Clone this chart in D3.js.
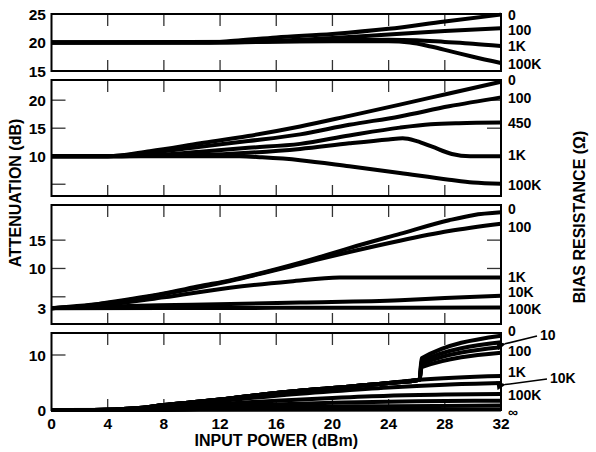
<!DOCTYPE html>
<html>
<head>
<meta charset="utf-8">
<script src="https://cdn.jsdelivr.net/npm/d3@7"></script>
<style>
  html, body { margin: 0; padding: 0; background: #fff; }
  svg text { font-family: "Liberation Sans", Arial, Helvetica, sans-serif; font-weight: bold; fill: #000; }
</style>
</head>
<body>
<svg id="chart" width="596" height="452"></svg>
<script>
// Input power axis (dBm)
const powerTicks = [0, 4, 8, 12, 16, 20, 24, 28, 32];

// Panel 1: attenuation curves per bias resistance, [dBm, dB]
const p1_R0    = [[0,20],[11,20],[13,20.3],[16,20.9],[20,21.5],[24,22.4],[28,23.7],[32,24.9]];
const p1_R100  = [[0,20],[12,20],[16,20.3],[20,20.8],[24,21.4],[28,22],[32,22.5]];
const p1_R1K   = [[0,20],[12,20],[20,20.4],[24,20.5],[26,20.4],[28,20.1],[30,19.8],[32,19.4]];
const p1_R100K = [[0,20],[20,20.2],[24,20.2],[25.5,20],[27,19.3],[28.5,18.4],[30,17.5],[32,16.4]];
const p1_names = ["0", "100", "1K", "100K"];
const p1_ticks = [15, 20, 25];

// Panel 2
const p2_R0    = [[0,10],[4,10],[7,10.9],[10.6,12.3],[14,13.6],[17.7,15.3],[21.2,17.2],[24.8,19.2],[28.3,21.2],[32,23.3]];
const p2_R100  = [[0,10],[4,10],[7,10.6],[10.6,11.7],[14,12.7],[17.7,13.9],[21.2,15.6],[24.8,17.1],[28.3,18.9],[32,20.5]];
const p2_R450  = [[0,10],[5,10],[8,10.3],[10.6,10.8],[14,11.5],[17.7,12.2],[21.2,13.7],[24.8,15.1],[27,15.7],[29,15.9],[32,16]];
const p2_R1K   = [[0,10],[5,10],[8,10.1],[10.6,10.2],[14,10.6],[17.7,11.3],[21.2,12.3],[24,13],[25,13.2],[26,12.7],[27.1,11.7],[28.5,10.4],[29.8,10],[32,10]];
const p2_R100K = [[0,10],[12,10],[13.4,10],[15,9.8],[17.7,9.3],[21.2,8.2],[24.8,7.0],[28.3,5.8],[30,5.3],[32,5.1]];
const p2_names = ["0", "100", "450", "1K", "100K"];
const p2_ticks = [10, 15, 20];

// Panel 3
const p3_R0    = [[0,3],[2,3.3],[4,4],[8,5.6],[10.6,6.9],[12.7,7.9],[17.7,11.0],[21.2,13.6],[24.8,16.1],[28.3,18.5],[30,19.4],[32,19.9]];
const p3_R100  = [[0,3],[4,3.9],[8,5.5],[12.7,7.8],[17.7,10.8],[21.2,12.9],[24.8,14.9],[28.3,16.6],[32,17.9]];
const p3_R1K   = [[0,3],[4,3.6],[8,4.9],[12.7,6.6],[17,7.7],[20.5,8.4],[32,8.4]];
const p3_R10K  = [[0,3],[4,3.3],[10,3.6],[17.7,4.0],[24.8,4.4],[28,4.8],[32,5.2]];
const p3_R100K = [[0,3],[16,3.05],[32,3.1]];
const p3_names = ["0", "100", "1K", "10K", "100K"];
const p3_ticks = [3, 10, 15];

// Panel 4
const p4_R0    = [[0,0],[3,0],[6,0.3],[8,0.9],[10,1.4],[12,1.9],[16,3.1],[20,4.0],[24,4.9],[26.2,5.5],[26.35,9.4],[32,13.5]];
const p4_R10   = [[0,0],[3,0],[6,0.3],[8,0.9],[10,1.4],[12,1.9],[16,3.1],[20,4.0],[24,4.9],[26.2,5.5],[26.35,8.9],[32,12.3]];
const p4_R100  = [[0,0],[3,0],[6,0.3],[8,0.9],[10,1.4],[12,1.9],[16,3.1],[20,4.0],[24,4.9],[26.2,5.5],[26.35,8.4],[32,11.4]];
const p4_R300  = [[0,0],[3,0],[6,0.3],[8,0.9],[10,1.4],[12,1.9],[16,3.1],[20,4.0],[24,4.9],[26.2,5.5],[26.35,7.8],[32,10.4]];
const p4_R1K   = [[0,0],[3,0],[6,0.3],[8,0.9],[10,1.4],[12,1.9],[16,3.1],[20,4.0],[24,4.9],[26.2,5.5],[32,6.2]];
const p4_R10K  = [[0,0],[4,0],[8,0.6],[12,1.6],[16,2.6],[20,3.4],[24,4.1],[28,4.6],[32,4.9]];
const p4_R100K = [[0,0],[4,0],[8,0.4],[12,1.1],[16,1.7],[20,2.2],[24,2.6],[28,2.8],[32,2.9]];
const p4_R1M   = [[0,0],[6,0],[10,0.5],[14,0.9],[20,1.3],[26,1.6],[32,1.7]];
const p4_R10M  = [[0,0],[8,0],[12,0.3],[18,0.6],[24,0.7],[32,0.8]];
const p4_RInf  = [[0,0],[32,0.1]];
const p4_names = ["0", "10", "100", "", "1K", "10K", "100K", "", "", "∞"];
const p4_ticks = [0, 10];

// Layout for each stacked panel
const panels = [
  { top: 14,  bottom: 71,  domain: [15, 25],     series: [p1_R0, p1_R100, p1_R1K, p1_R100K], names: p1_names, ticks: p1_ticks, minor: [], rightTicks: [],
    labelDy: [0.5, 2, 0.5, 1] },
  { top: 80,  bottom: 196, domain: [2.9, 23.6],  series: [p2_R0, p2_R100, p2_R450, p2_R1K, p2_R100K], names: p2_names, ticks: p2_ticks, minor: [5], rightTicks: [15, 20],
    labelDy: [-1.5, 1, 0.5, -1, 1] },
  { top: 205, bottom: 324, domain: [0.2, 21.2],  series: [p3_R0, p3_R100, p3_R1K, p3_R10K, p3_R100K], names: p3_names, ticks: p3_ticks, minor: [5], rightTicks: [10, 15],
    labelDy: [-3, 3, -0.5, -3.5, 1.5] },
  { top: 333, bottom: 410, domain: [0, 14],      series: [p4_R0, p4_R10, p4_R100, p4_R300, p4_R1K, p4_R10K, p4_R100K, p4_R1M, p4_R10M, p4_RInf], names: p4_names, ticks: p4_ticks, minor: [], rightTicks: [],
    labelDy: [-4.5, 0, 4, 0, -4, 0, 1, 0, 0, 2.5] }
];

const left = 51.5, right = 501;
const svg = d3.select("#chart");
const x = d3.scaleLinear().domain([0, 32]).range([left, right]);

panels.forEach((p, i) => {
  const y = d3.scaleLinear().domain(p.domain).range([p.bottom, p.top]);
  const g = svg.append("g");

  // inward x ticks at top and bottom edge
  const inner = powerTicks.slice(1, -1);
  g.selectAll(".xt-top").data(inner).join("line")
    .attr("x1", d => x(d)).attr("x2", d => x(d))
    .attr("y1", p.top).attr("y2", p.top + 12)
    .attr("stroke", "#333").attr("stroke-width", 1.3);
  g.selectAll(".xt-bot").data(inner).join("line")
    .attr("x1", d => x(d)).attr("x2", d => x(d))
    .attr("y1", p.bottom).attr("y2", p.bottom - 11)
    .attr("stroke", "#333").attr("stroke-width", 1.3);

  // inward y ticks on the left edge
  g.selectAll(".yt").data(p.ticks.concat(p.minor)).join("line")
    .attr("x1", left).attr("x2", left + 14)
    .attr("y1", d => y(d)).attr("y2", d => y(d))
    .attr("stroke", "#333").attr("stroke-width", 1.3);
  // inward y ticks on the right edge
  g.selectAll(".ytr").data(p.rightTicks).join("line")
    .attr("x1", right).attr("x2", right - 14)
    .attr("y1", d => y(d)).attr("y2", d => y(d))
    .attr("stroke", "#333").attr("stroke-width", 1.3);

  // y tick labels
  g.selectAll(".yl").data(p.ticks).join("text")
    .attr("x", 46).attr("y", d => y(d))
    .attr("text-anchor", "end").attr("dominant-baseline", "central")
    .attr("font-size", 15.5).text(d => d);

  // curves
  const line = d3.line().x(d => x(d[0])).y(d => y(d[1])).curve(d3.curveMonotoneX);
  g.selectAll(".curve").data(p.series).join("path")
    .attr("d", line).attr("fill", "none")
    .attr("stroke", "#000").attr("stroke-width", 4)
    .attr("stroke-linejoin", "round");

  // frame
  g.append("rect")
    .attr("x", left).attr("y", p.top)
    .attr("width", right - left).attr("height", p.bottom - p.top)
    .attr("fill", "none").attr("stroke", "#000").attr("stroke-width", 2);

  // resistance labels at the right end of each curve
  g.selectAll(".rl").data(p.series.map((s, k) => ({ s, k })).filter(o => p.names[o.k] !== "" && !(i === 3 && (p.names[o.k] === "10" || p.names[o.k] === "10K"))))
    .join("text")
    .attr("x", 508)
    .attr("y", o => y(o.s[o.s.length - 1][1]) + p.labelDy[o.k])
    .attr("dominant-baseline", "central")
    .attr("font-size", 14)
    .text(o => p.names[o.k]);

  if (i === 3) {
    // x tick labels under the bottom panel
    svg.selectAll(".xl").data(powerTicks).join("text")
      .attr("x", d => x(d)).attr("y", 423)
      .attr("text-anchor", "middle").attr("dominant-baseline", "central")
      .attr("font-size", 15.5).text(d => d);

    // pointers for the crowded labels
    const defs = svg.append("defs");
    defs.append("marker").attr("id", "arrow")
      .attr("viewBox", "0 0 10 10").attr("refX", 1).attr("refY", 5)
      .attr("markerWidth", 8).attr("markerHeight", 6).attr("orient", "auto-start-reverse")
      .append("path").attr("d", "M10,0 L0,5 L10,10 Z").attr("fill", "#000");

    const callouts = [
      { name: "10",  k: 1, tx: 540, ty: 335 },
      { name: "10K", k: 5, tx: 550, ty: 378 }
    ];
    callouts.forEach(c => {
      const s = p.series[c.k];
      const yEnd = y(s[s.length - 1][1]);
      svg.append("line")
        .attr("x1", c.tx - 3).attr("y1", c.ty + 1)
        .attr("x2", 505).attr("y2", yEnd + 1.5)
        .attr("stroke", "#000").attr("stroke-width", 1.5)
        .attr("marker-end", "url(#arrow)");
      svg.append("text").attr("x", c.tx).attr("y", c.ty)
        .attr("dominant-baseline", "central").attr("font-size", 14).text(c.name);
    });
  }
});

// axis titles
svg.append("text").attr("x", (left + right) / 2).attr("y", 440)
  .attr("text-anchor", "middle").attr("dominant-baseline", "central")
  .attr("font-size", 16).text("INPUT POWER (dBm)");

svg.append("text")
  .attr("transform", "translate(15.5,193) rotate(-90)")
  .attr("text-anchor", "middle").attr("dominant-baseline", "central")
  .attr("font-size", 16).text("ATTENUATION (dB)");

svg.append("text")
  .attr("transform", "translate(579,217) rotate(-90)")
  .attr("text-anchor", "middle").attr("dominant-baseline", "central")
  .attr("font-size", 16).text("BIAS RESISTANCE (Ω)");
</script>
</body>
</html>
